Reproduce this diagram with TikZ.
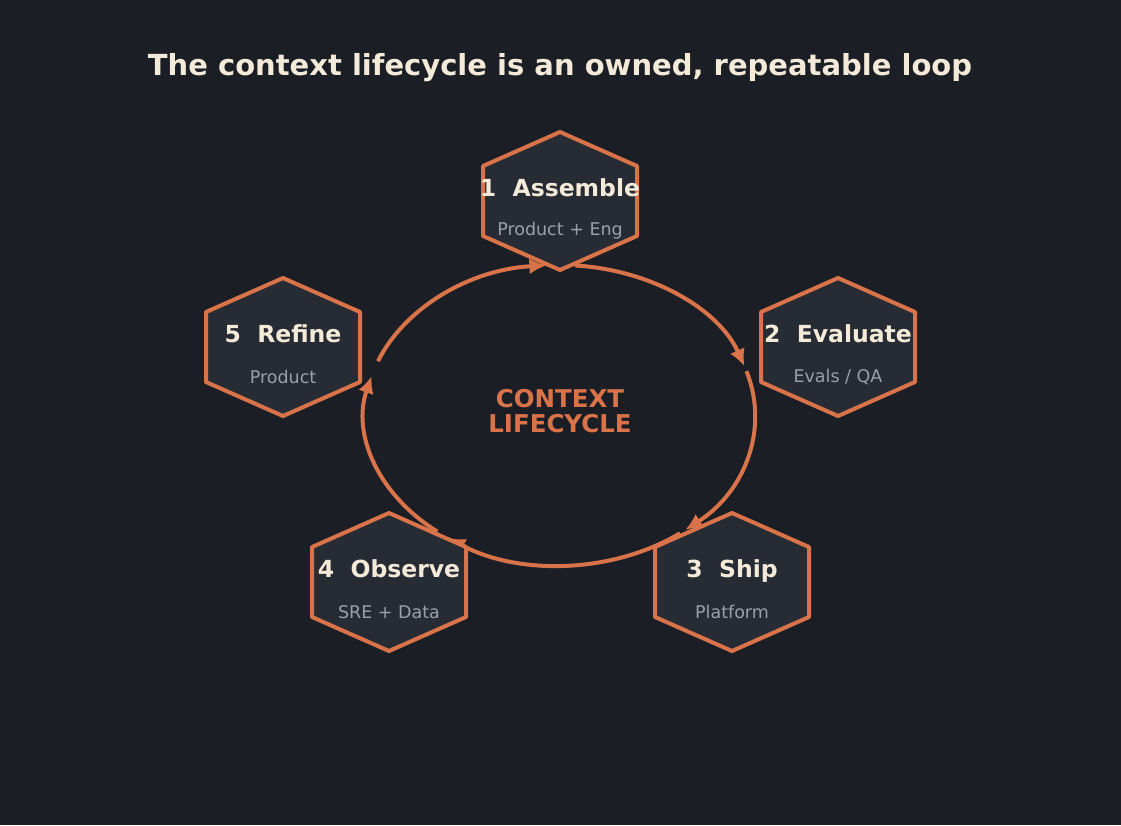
\documentclass[tikz,border=0pt]{standalone}
\usepackage{fontspec}
\setmainfont{DejaVu Sans}
\usetikzlibrary{arrows.meta}
\definecolor{bg}{HTML}{1B1E24}
\definecolor{hexfill}{HTML}{272B33}
\definecolor{org}{HTML}{D9734A}
\definecolor{cream}{HTML}{F3EAD9}
\definecolor{sub}{HTML}{9AA0AB}
\begin{document}
\begin{tikzpicture}[x=1pt,y=-1pt,
  hexa/.style={draw=org,fill=hexfill,line width=4pt,line join=round},
  ttl/.style={text=cream,font=\bfseries\fontsize{23.5}{27}\selectfont,text height=16pt,text depth=4pt},
  sbt/.style={text=sub,font=\fontsize{17.5}{21}\selectfont},
  flow/.style={draw=org,line width=4pt,-{Latex[length=17pt,width=16pt]}}]
\fill[bg] (0,0) rectangle (1121,825);
\useasboundingbox (0,0) rectangle (1121,825);
\node[text=cream,font=\bfseries\fontsize{29}{33}\selectfont] (title) at (560,68) {The context lifecycle is an owned, repeatable loop};
\node[text=org,font=\bfseries\fontsize{24.5}{29}\selectfont,align=center] (center) at (560,411) {CONTEXT\\[-4pt]LIFECYCLE};
% arcs
\draw[flow] (560,415) ++(-85.6:195 and 150) arc[start angle=-85.6,end angle=-19,x radius=195,y radius=150];
\draw[flow] (560,415) ++(-17:195 and 150) arc[start angle=-17,end angle=50,x radius=195,y radius=150];
\draw[flow] (560,415) ++(52:195 and 150) arc[start angle=52,end angle=125,x radius=195,y radius=150];
\draw[flow] (560,415) ++(129:195 and 150) arc[start angle=129,end angle=195,x radius=195,y radius=150];
\draw[flow] (560,415) ++(201:195 and 150) arc[start angle=201,end angle=266,x radius=195,y radius=150];
% hexagons
\foreach \n/\cx/\cy/\t/\s in {a/560/201/{1\ \ Assemble}/{Product + Eng}, e/838/347/{2\ \ Evaluate}/{Evals / QA}, s/732/582/{3\ \ Ship}/{Platform}, o/389/582/{4\ \ Observe}/{SRE + Data}, r/283/347/{5\ \ Refine}/{Product}}{
  \draw[hexa] (\cx,\cy-69) -- (\cx+77,\cy-35) -- (\cx+77,\cy+35) -- (\cx,\cy+69) -- (\cx-77,\cy+35) -- (\cx-77,\cy-35) -- cycle;
  \node[ttl] (\n t) at (\cx,\cy-11) {\t};
  \node[sbt] (\n s) at (\cx,\cy+30) {\s};
}
\end{tikzpicture}
\end{document}
